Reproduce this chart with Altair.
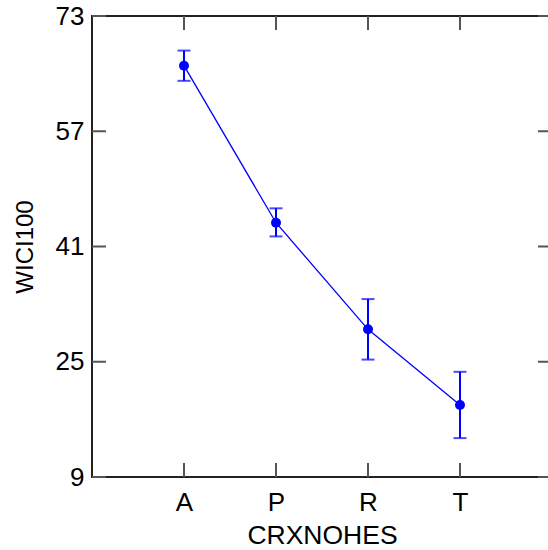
import altair as alt
import pandas as pd

# Group means and error-bar limits for WICI100 by CRXNOHES
groups = ["A", "P", "R", "T"]
means = [66.1, 44.3, 29.5, 19.0]
lows = [64.0, 42.4, 25.3, 14.4]
highs = [68.2, 46.3, 33.7, 23.6]
y_ticks = [9, 25, 41, 57, 73]

df = pd.DataFrame({"grp": groups, "mean": means, "lo": lows, "hi": highs})
ticks_df = pd.DataFrame({"v": y_ticks})

W, H = 460, 461
blue = "#0000ff"
tick_color = "#555555"
font = "Liberation Sans"

x_enc = alt.X("grp:O", scale=alt.Scale(type="point", padding=1, domain=groups),
              axis=alt.Axis(title="CRXNOHES", labelAngle=0, labelAlign="center",
                            labelBaseline="top", ticks=False, domain=False,
                            labelPadding=12, titlePadding=7, titleFontSize=26.5))
y_scale = alt.Scale(domain=[9, 73], nice=False, zero=False)
y_enc = alt.Y("mean:Q", scale=y_scale,
              axis=alt.Axis(title="WICI100", values=y_ticks, ticks=False, domain=False,
                            grid=False, labelPadding=8, titlePadding=18, titleFontSize=24))

base = alt.Chart(df)

line = base.mark_line(color=blue, strokeWidth=1.3).encode(x=x_enc, y=y_enc)
pts = base.mark_circle(color=blue, size=100, opacity=1).encode(x="grp:O", y="mean:Q")
bars = base.mark_rule(color=blue, strokeWidth=2).encode(x="grp:O", y="lo:Q", y2="hi:Q")
cap_lo = base.mark_tick(color=blue, thickness=2, size=13, orient="horizontal").encode(x="grp:O", y="lo:Q")
cap_hi = base.mark_tick(color=blue, thickness=2, size=13, orient="horizontal").encode(x="grp:O", y="hi:Q")

# inward tick marks on all four sides
tick_len = 14
left_ticks = alt.Chart(ticks_df).mark_rule(color=tick_color, strokeWidth=2).encode(
    y=alt.Y("v:Q", scale=y_scale), x=alt.value(0), x2=alt.value(tick_len))
right_ticks = alt.Chart(ticks_df).mark_rule(color=tick_color, strokeWidth=2).encode(
    y=alt.Y("v:Q", scale=y_scale), x=alt.value(W - tick_len), x2=alt.value(W))
bottom_ticks = base.mark_rule(color=tick_color, strokeWidth=2).encode(
    x="grp:O", y=alt.value(H - tick_len), y2=alt.value(H))
top_ticks = base.mark_rule(color=tick_color, strokeWidth=2).encode(
    x="grp:O", y=alt.value(0), y2=alt.value(tick_len))

# the plot frame runs a few pixels past the right edge of the page
chart = alt.layer(
    left_ticks, right_ticks, bottom_ticks, top_ticks, line, bars, cap_lo, cap_hi, pts
).properties(
    width=W, height=H,
    autosize=alt.AutoSizeParams(type="none"),
    padding={"left": 92, "top": 16, "right": -4, "bottom": 73},
    background="white",
).configure_view(
    stroke="#222222", strokeWidth=2
).configure_axis(
    labelFont=font, titleFont=font, labelFontSize=26,
    labelColor="black", titleColor="black", titleFontWeight="normal", grid=False
)

chart.save("out.html", embed_options={"renderer": "svg", "actions": False})
